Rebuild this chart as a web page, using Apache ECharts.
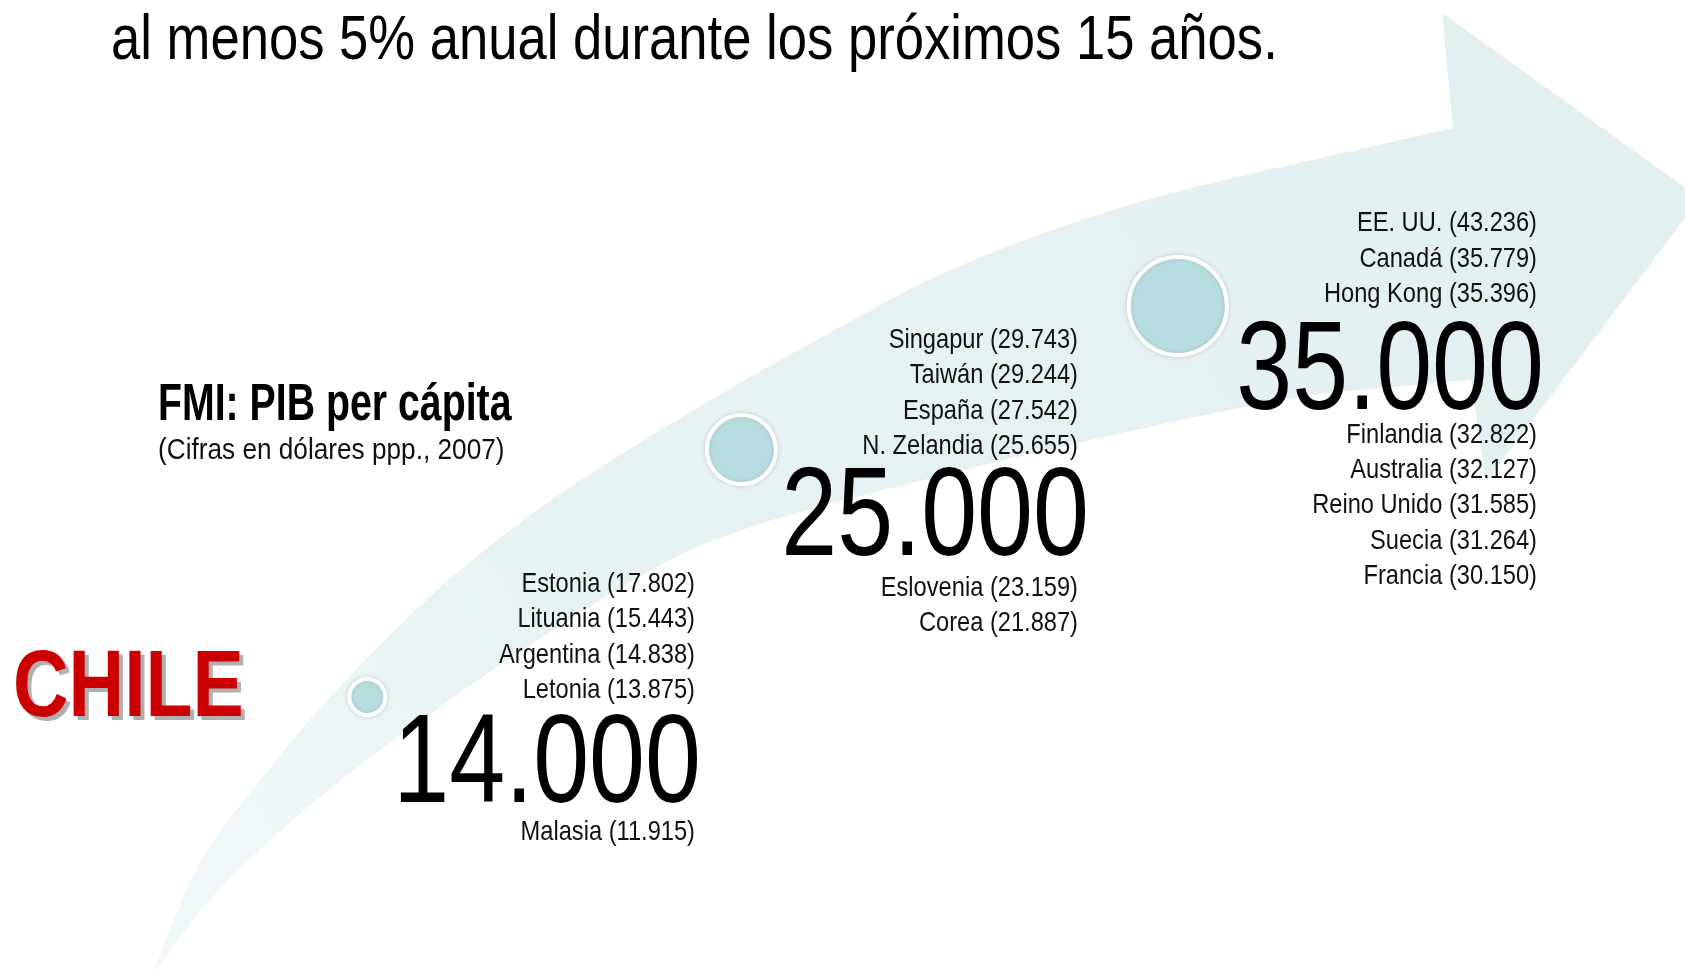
<!DOCTYPE html>
<html>
<head>
<meta charset="utf-8">
<script src="https://cdn.jsdelivr.net/npm/echarts@6/dist/echarts.min.js"></script>
<style>
html, body { margin: 0; padding: 0; background: #fff; }
#main { width: 1685px; height: 974px; }
</style>
</head>
<body>
<div id="main"></div>
<script>
// textos
const titulo = 'al menos 5% anual durante los próximos 15 años.';
const fuenteTitulo = 'FMI: PIB per cápita';
const fuenteNota = '(Cifras en dólares ppp., 2007)';
const paisDestacado = 'CHILE';

// metas de PIB per cápita (dólares ppp.)
const metas = [14000, 25000, 35000];
// avance de cada meta a lo largo de la flecha (% del ancho)
const avance = [21.8, 44.0, 69.9];

// países por encima / por debajo de cada meta
const paisesArriba = [
    ['Estonia', 'Lituania', 'Argentina', 'Letonia'],
    ['Singapur', 'Taiwán', 'España', 'N. Zelandia'],
    ['EE. UU.', 'Canadá', 'Hong Kong']
];
const valoresArriba = [
    [17802, 15443, 14838, 13875],
    [29743, 29244, 27542, 25655],
    [43236, 35779, 35396]
];
const paisesAbajo = [
    ['Malasia'],
    ['Eslovenia', 'Corea'],
    ['Finlandia', 'Australia', 'Reino Unido', 'Suecia', 'Francia']
];
const valoresAbajo = [
    [11915],
    [23159, 21887],
    [32822, 32127, 31585, 31264, 30150]
];

// diseño
const FUENTE = '"Liberation Sans", Arial, sans-serif';
const ESTRECHO = 0.83;
const tamCirculo = [36, 69, 98];
const colDerecha = [695, 1078, 1537];
const colNumero = [701, 1089, 1544];
const yNumero = [766.5, 519.6, 374];
const gapArriba = [76.5, 73.6, 80];
const gapAbajo = [65.5, 68.4, 61];
const paso = 35.3;

// contorno de la flecha
const bordeSup = [[153, 973], [200, 862], [267, 772], [333, 694], [433, 594], [533, 513], [633, 447],
    [733, 387], [833, 331], [933, 278], [1033, 237], [1133, 204], [1233, 178], [1343, 153], [1453, 128]];
const punta = [[1442, 13], [1700, 198], [1486, 482], [1471, 380]];
const bordeInf = [[1471, 380], [1380, 388], [1300, 397], [1200, 416], [1100, 438], [1000, 461], [900, 486],
    [800, 512], [742, 530], [680, 555], [600, 600], [500, 665], [433, 712], [367, 760], [313, 803],
    [267, 843], [210, 900], [153, 973]];

function miles(n) {
    return String(n).replace(/\B(?=(\d{3})+(?!\d))/g, '.');
}

function curva(pts, pasos) {
    let out = [];
    for (let i = 0; i < pts.length - 1; i++) {
        let p0 = pts[Math.max(i - 1, 0)], p1 = pts[i], p2 = pts[i + 1], p3 = pts[Math.min(i + 2, pts.length - 1)];
        for (let s = 0; s < pasos; s++) {
            let t = s / pasos, t2 = t * t, t3 = t2 * t;
            out.push([0, 1].map(k => 0.5 * (2 * p1[k] + (-p0[k] + p2[k]) * t +
                (2 * p0[k] - 5 * p1[k] + 4 * p2[k] - p3[k]) * t2 +
                (-p0[k] + 3 * p1[k] - 3 * p2[k] + p3[k]) * t3)));
        }
    }
    out.push(pts[pts.length - 1]);
    return out;
}

function texto(x, y, str, size, opts) {
    opts = opts || {};
    let align = opts.align || 'right';
    return {
        type: 'text',
        x: x,
        y: y,
        scaleX: opts.escala || ESTRECHO,
        z: opts.z || 10,
        silent: true,
        style: {
            text: str,
            fontSize: size,
            fontFamily: FUENTE,
            fontWeight: opts.peso || 'normal',
            fill: opts.color || '#111',
            align: align,
            textAlign: align,
            verticalAlign: 'middle',
            textVerticalAlign: 'middle'
        }
    };
}

let elementos = [];

// flecha de fondo
let contorno = curva(bordeSup, 8).concat(punta.slice(0, 3)).concat(curva(bordeInf, 8));
elementos.push({
    type: 'polygon',
    z: -1,
    silent: true,
    shape: { points: contorno },
    style: {
        fill: {
            type: 'linear', x: 153, y: 973, x2: 1500, y2: 150, global: true,
            colorStops: [
                { offset: 0, color: '#f1f8f9' },
                { offset: 0.35, color: '#e7f2f4' },
                { offset: 1, color: '#e3f0f2' }
            ]
        }
    }
});

// títulos
elementos.push(texto(111, 42, titulo, 63, { align: 'left', color: '#000', escala: 0.835 }));
elementos.push(texto(158, 406, fuenteTitulo, 51, { align: 'left', peso: 'bold', color: '#000', escala: 0.77 }));
elementos.push(texto(158, 451, fuenteNota, 30, { align: 'left', escala: 0.873 }));
elementos.push(texto(17, 693.4, paisDestacado, 95, { align: 'left', peso: 'bold', color: '#b0b0b0', escala: 0.81, z: 9 }));
elementos.push(texto(13, 689.4, paisDestacado, 95, { align: 'left', peso: 'bold', color: '#cc0000', escala: 0.81 }));

// grupos de países por meta
metas.forEach(function (meta, g) {
    elementos.push(texto(colNumero[g], yNumero[g], miles(meta), 127, { color: '#000', escala: 0.792 }));
    let arriba = paisesArriba[g];
    arriba.forEach(function (p, i) {
        let y = yNumero[g] - gapArriba[g] - (arriba.length - 1 - i) * paso;
        elementos.push(texto(colDerecha[g], y, p + ' (' + miles(valoresArriba[g][i]) + ')', 28.5));
    });
    paisesAbajo[g].forEach(function (p, i) {
        let y = yNumero[g] + gapAbajo[g] + i * paso;
        elementos.push(texto(colDerecha[g], y, p + ' (' + miles(valoresAbajo[g][i]) + ')', 28.5));
    });
});

let chart = echarts.init(document.getElementById('main'));
let option = {
    animation: false,
    backgroundColor: '#fff',
    grid: { left: 0, right: 0, top: 0, bottom: 0 },
    xAxis: { type: 'value', min: 0, max: 100, show: false },
    yAxis: { type: 'log', min: 7315, max: 71710, show: false },
    series: [{
        type: 'scatter',
        silent: true,
        z: 5,
        data: metas.map((v, i) => [avance[i], v]),
        symbolSize: function (val, p) { return tamCirculo[p.dataIndex]; },
        itemStyle: {
            color: '#b8dde1',
            opacity: 1,
            borderColor: '#ffffff',
            borderWidth: 4,
            shadowBlur: 5,
            shadowColor: 'rgba(0, 0, 0, 0.12)'
        }
    }],
    graphic: { elements: elementos }
};
chart.setOption(option);
</script>
</body>
</html>
